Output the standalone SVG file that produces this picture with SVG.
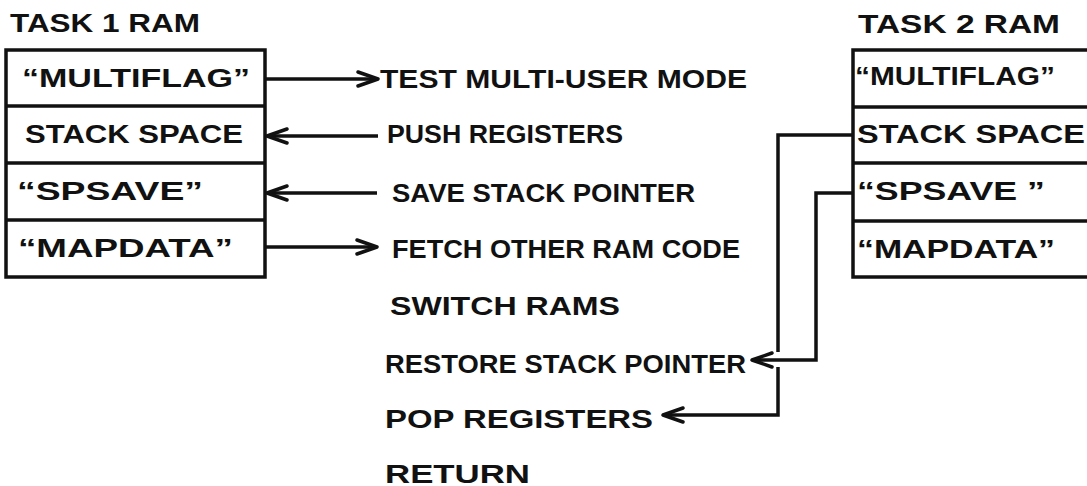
<svg xmlns="http://www.w3.org/2000/svg" width="1087" height="486" viewBox="0 0 1087 486">
  <style>
    .t { font-family: "Liberation Sans", "DejaVu Sans", sans-serif; font-weight: bold; font-size: 25px; fill: #111; }
    .box { fill: #fff; stroke: #111; stroke-width: 3.5; }
    .div { stroke: #111; stroke-width: 3.5; }
    .wire { fill: none; stroke: #111; stroke-width: 3.5; stroke-linejoin: miter; }
  </style>
  <defs>
    <marker id="chev" markerUnits="userSpaceOnUse" markerWidth="26" markerHeight="20" refX="22" refY="9" orient="auto" viewBox="0 0 26 20">
      <path d="M2,2 L22,9 L2,16" fill="none" stroke="#111" stroke-width="3.5" stroke-linecap="round" stroke-linejoin="round"/>
    </marker>
  </defs>
  <rect width="1087" height="486" fill="#fff"/>

  <!-- Task 1 memory block -->
  <g id="task1-ram">
    <text class="t" x="10" y="32" textLength="190" lengthAdjust="spacingAndGlyphs">TASK 1 RAM</text>
    <rect class="box" x="6" y="50" width="259" height="227"/>
    <line class="div" x1="6" y1="106" x2="265" y2="106"/>
    <line class="div" x1="6" y1="163" x2="265" y2="163"/>
    <line class="div" x1="6" y1="220" x2="265" y2="220"/>
    <text class="t" x="22" y="87" textLength="228" lengthAdjust="spacingAndGlyphs">“MULTIFLAG”</text>
    <text class="t" x="25" y="143" textLength="218" lengthAdjust="spacingAndGlyphs">STACK SPACE</text>
    <text class="t" x="17" y="200" textLength="186" lengthAdjust="spacingAndGlyphs">“SPSAVE”</text>
    <text class="t" x="18" y="257" textLength="215" lengthAdjust="spacingAndGlyphs">“MAPDATA”</text>
  </g>

  <!-- Task 2 memory block -->
  <g id="task2-ram">
    <text class="t" x="858" y="33" textLength="202" lengthAdjust="spacingAndGlyphs">TASK 2 RAM</text>
    <rect class="box" x="853" y="50" width="250" height="227"/>
    <line class="div" x1="853" y1="107" x2="1090" y2="107"/>
    <line class="div" x1="853" y1="163" x2="1090" y2="163"/>
    <line class="div" x1="853" y1="221" x2="1090" y2="221"/>
    <text class="t" x="855" y="85" textLength="200" lengthAdjust="spacingAndGlyphs">“MULTIFLAG”</text>
    <text class="t" x="857" y="143" textLength="228" lengthAdjust="spacingAndGlyphs">STACK SPACE</text>
    <text class="t" x="857" y="200" textLength="188" lengthAdjust="spacingAndGlyphs">“SPSAVE ”</text>
    <text class="t" x="857" y="258" textLength="198" lengthAdjust="spacingAndGlyphs">“MAPDATA”</text>
  </g>

  <!-- Switch routine steps -->
  <g id="steps">
    <text class="t" x="380" y="88" textLength="367" lengthAdjust="spacingAndGlyphs">TEST MULTI-USER MODE</text>
    <text class="t" x="387" y="143" textLength="236" lengthAdjust="spacingAndGlyphs">PUSH REGISTERS</text>
    <text class="t" x="392" y="202" textLength="303" lengthAdjust="spacingAndGlyphs">SAVE STACK POINTER</text>
    <text class="t" x="392" y="258" textLength="348" lengthAdjust="spacingAndGlyphs">FETCH OTHER RAM CODE</text>
    <text class="t" x="390" y="315" textLength="230" lengthAdjust="spacingAndGlyphs">SWITCH RAMS</text>
    <text class="t" x="385" y="373" textLength="361" lengthAdjust="spacingAndGlyphs">RESTORE STACK POINTER</text>
    <text class="t" x="385" y="428" textLength="268" lengthAdjust="spacingAndGlyphs">POP REGISTERS</text>
    <text class="t" x="385" y="483" textLength="145" lengthAdjust="spacingAndGlyphs">RETURN</text>
  </g>

  <!-- Connectors -->
  <g id="connectors">
    <line class="wire" x1="265" y1="79" x2="378" y2="79" marker-end="url(#chev)"/>
    <line class="wire" x1="378" y1="136" x2="267" y2="136" marker-end="url(#chev)"/>
    <line class="wire" x1="377" y1="193" x2="267" y2="193" marker-end="url(#chev)"/>
    <line class="wire" x1="265" y1="247" x2="377" y2="247" marker-end="url(#chev)"/>
    <!-- SPSAVE back to restore step -->
    <path class="wire" d="M853,193 H816 V360 H752" marker-end="url(#chev)"/>
    <!-- stack space back to pop step, broken where it crosses -->
    <path class="wire" d="M853,135 H778 V352"/>
    <path class="wire" d="M778,367 V415 H663" marker-end="url(#chev)"/>
  </g>
</svg>
